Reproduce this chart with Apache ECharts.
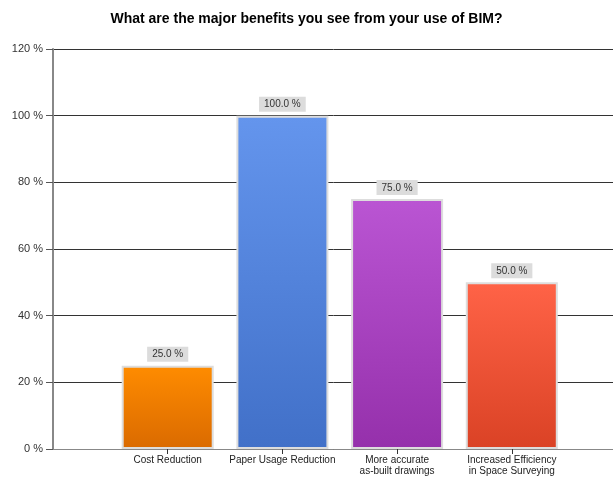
<!DOCTYPE html>
<html>
<head>
<meta charset="utf-8">
<script src="https://cdn.jsdelivr.net/npm/echarts@6/dist/echarts.min.js"></script>
<style>
  html, body { margin: 0; padding: 0; background: #fff; }
  #chart { width: 613px; height: 477px; }
</style>
</head>
<body>
<div id="chart"></div>
<script>
// Survey answers: share of respondents naming each benefit
const categories = ['', 'Cost Reduction', 'Paper Usage Reduction', 'More accurate\nas-built drawings', 'Increased Efficiency\nin Space Surveying', ''];
const values = [null, 25.0, 100.0, 75.0, 50.0, null];
const yTicks = [0, 20, 40, 60, 80, 100, 120];

// Vertical gradient per bar: [top, bottom]
const barColors = [
  null,
  ['#FF8C00', '#DA6A00'],
  ['#6495ED', '#4170C8'],
  ['#BA55D3', '#9530AB'],
  ['#FF6347', '#DA4225'],
  null
];

const font = '"Liberation Sans", Arial, sans-serif';

const seriesData = values.map((v, i) => {
  if (v === null) return { value: null };
  const c = barColors[i];
  return {
    value: v,
    itemStyle: {
      color: new echarts.graphic.LinearGradient(0, 0, 0, 1, [
        { offset: 0, color: c[0] },
        { offset: 1, color: c[1] }
      ]),
      borderColor: '#DDDDDD',
      borderWidth: 2
    }
  };
});

const chart = echarts.init(document.getElementById('chart'), null, { renderer: 'canvas' });
chart.setOption({
  animation: false,
  backgroundColor: '#ffffff',
  title: {
    text: 'What are the major benefits you see from your use of BIM?',
    left: 'center',
    top: 7,
    textStyle: { fontFamily: font, fontSize: 14, fontWeight: 'bold', color: '#000' }
  },
  grid: { left: 53, top: 49, width: 573.5, height: 400, outerBoundsMode: 'none', containLabel: false },
  xAxis: {
    type: 'category',
    data: categories,
    boundaryGap: false,
    axisLine: { show: true, lineStyle: { color: '#888', width: 1 } },
    axisTick: {
      show: true,
      length: 5,
      interval: (idx) => idx >= 1 && idx <= 4,
      lineStyle: { color: '#333' }
    },
    axisLabel: {
      interval: 0,
      fontFamily: font,
      fontSize: 10,
      color: '#222',
      lineHeight: 11,
      margin: 6
    },
    splitLine: { show: false }
  },
  yAxis: {
    type: 'value',
    min: yTicks[0],
    max: yTicks[yTicks.length - 1],
    interval: 20,
    axisLine: { show: true, lineStyle: { color: '#888', width: 2 } },
    axisTick: { show: true, length: 7, lineStyle: { color: '#555' } },
    axisLabel: {
      formatter: (v) => v + ' %',
      fontFamily: font,
      fontSize: 11,
      color: '#333',
      margin: 10
    },
    splitLine: { show: true, lineStyle: { color: '#333', width: 1 } }
  },
  series: [{
    type: 'bar',
    data: seriesData,
    barWidth: 92,
    label: {
      show: true,
      position: 'top',
      distance: 4,
      formatter: (p) => p.value == null ? '' : p.value.toFixed(1) + ' %',
      fontFamily: font,
      fontSize: 10,
      color: '#333',
      backgroundColor: '#DCDCDC',
      padding: [3, 5, 2, 5]
    }
  }]
});
</script>
</body>
</html>
